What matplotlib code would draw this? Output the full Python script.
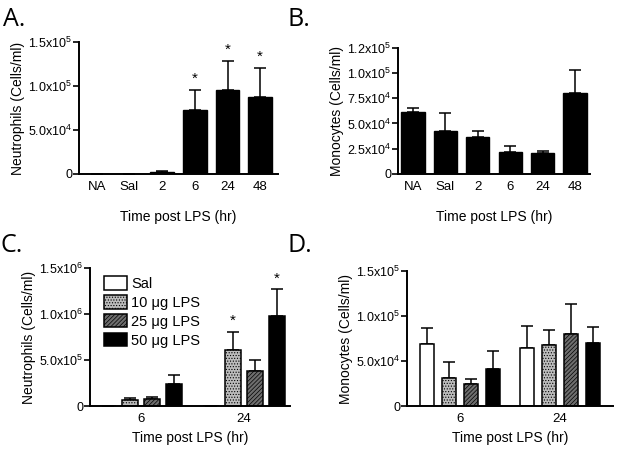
import matplotlib
matplotlib.use("Agg")
import matplotlib.pyplot as plt
import numpy as np

plt.rcParams['font.family'] = ['Liberation Sans', 'DejaVu Sans']
plt.rcParams['mathtext.default'] = 'regular'
plt.rcParams['hatch.linewidth'] = 0.5

# Panel A/B: time course
tiempos = ['NA', 'Sal', '2', '6', '24', '48']
neut_a = [0, 0, 2500, 72500, 95000, 88000]
neut_a_err = [0, 0, 500, 23500, 33000, 32000]
neut_a_sig = [False, False, False, True, True, True]
mono_b = [61000, 42800, 36800, 22000, 20500, 80000]
mono_b_err = [4000, 17700, 6000, 5600, 2000, 22500]

# Panel C/D: dosis
grupos = ['6', '24']
dosis = ['Sal', '10 \u03bcg LPS', '25 \u03bcg LPS', '50 \u03bcg LPS']
neut_c = [[0, 65000, 73000, 237000], [0, 612000, 379000, 983000]]
neut_c_err = [[0, 26000, 29000, 102000], [0, 190000, 120000, 284000]]
neut_c_sig = [[False, False, False, False], [False, True, False, True]]
mono_d = [[69300, 31500, 24400, 41500], [64400, 68100, 79600, 70400]]
mono_d_err = [[17400, 17400, 5600, 19200], [24500, 16300, 33400, 17000]]

# Ticks
ticks_a = [0, 5e4, 1e5, 1.5e5]
labels_a = ['0', '5.0x10$^4$', '1.0x10$^5$', '1.5x10$^5$']
ticks_b = [0, 2.5e4, 5e4, 7.5e4, 1e5, 1.25e5]
labels_b = ['0', '2.5x10$^4$', '5.0x10$^4$', '7.5x10$^4$', '1.0x10$^5$', '1.2x10$^5$']
ticks_c = [0, 5e5, 1e6, 1.5e6]
labels_c = ['0', '5.0x10$^5$', '1.0x10$^6$', '1.5x10$^6$']
ticks_d = [0, 5e4, 1e5, 1.5e5]
labels_d = ['0', '5.0x10$^4$', '1.0x10$^5$', '1.5x10$^5$']

estilos = [dict(facecolor='white', hatch=None),
           dict(facecolor='#bcbcbc', hatch='......'),
           dict(facecolor='#6e6e6e', hatch='////////'),
           dict(facecolor='black', hatch=None)]

fig = plt.figure(figsize=(6.19, 4.58), dpi=100)


def estilo_ejes(ax, ticks, labels, ylabel, xlabelpad):
    for s in ['top', 'right']:
        ax.spines[s].set_visible(False)
    ax.spines['left'].set_linewidth(1.4)
    ax.spines['bottom'].set_linewidth(1.4)
    ax.set_yticks(ticks)
    ax.set_yticklabels(labels)
    ax.set_ylim(0, ticks[-1])
    ax.tick_params(axis='y', length=4, width=1.2, labelsize=9, pad=1)
    ax.tick_params(axis='x', length=0, labelsize=9.5, pad=5)
    ax.set_ylabel(ylabel, fontsize=10, labelpad=2)
    ax.set_xlabel('Time post LPS (hr)', fontsize=10, labelpad=xlabelpad)


def barras_simples(ax, vals, errs):
    x = np.arange(len(vals))
    ax.bar(x, vals, width=0.72, color='black', edgecolor='black', zorder=2)
    ax.errorbar(x, vals, yerr=[np.zeros(len(vals)), errs], fmt='none',
                ecolor='black', elinewidth=1.1, capsize=4.5, capthick=1.1, zorder=1)
    ax.set_xticks(x)
    ax.set_xticklabels(tiempos)
    return x


def barras_grupo(ax, vals, errs, paso, ancho):
    offs = (np.arange(4) - 1.5) * paso
    handles = []
    for j in range(4):
        xs = np.arange(len(grupos)) + offs[j]
        v = [vals[g][j] for g in range(len(grupos))]
        e = [errs[g][j] for g in range(len(grupos))]
        b = ax.bar(xs, v, width=ancho, edgecolor='black', linewidth=1.1,
                   zorder=2, label=dosis[j], **estilos[j])
        ax.errorbar(xs, v, yerr=[np.zeros(len(v)), e], fmt='none',
                    ecolor='black', elinewidth=1.1, capsize=4, capthick=1.1, zorder=1)
        handles.append(b)
    ax.set_xticks(np.arange(len(grupos)))
    ax.set_xticklabels(grupos)
    return offs, handles


# A
ax_a = fig.add_axes([0.1276, 0.6201, 0.3215, 0.2882])
x = barras_simples(ax_a, neut_a, neut_a_err)
ax_a.set_xlim(-0.545, 5.545)
estilo_ejes(ax_a, ticks_a, labels_a, 'Neutrophils (Cells/ml)', 12)
for i in range(len(tiempos)):
    if neut_a_sig[i]:
        ax_a.annotate('*', (x[i], neut_a[i] + neut_a_err[i]), xytext=(0, 3),
                      textcoords='offset points', ha='center', va='bottom', fontsize=11)

# B
ax_b = fig.add_axes([0.643, 0.6201, 0.3102, 0.276])
barras_simples(ax_b, mono_b, mono_b_err)
ax_b.set_xlim(-0.46, 5.46)
estilo_ejes(ax_b, ticks_b, labels_b, 'Monocytes (Cells/ml)', 12)

# C
ax_c = fig.add_axes([0.1454, 0.1135, 0.3231, 0.3013])
offs_c, handles = barras_grupo(ax_c, neut_c, neut_c_err, 0.213, 0.155)
ax_c.set_xlim(-0.495, 1.447)
estilo_ejes(ax_c, ticks_c, labels_c, 'Neutrophils (Cells/ml)', 4)
for g in range(len(grupos)):
    for j in range(4):
        if neut_c_sig[g][j]:
            ax_c.annotate('*', (g + offs_c[j], neut_c[g][j] + neut_c_err[g][j]),
                          xytext=(0, 3), textcoords='offset points',
                          ha='center', va='bottom', fontsize=11)
ax_c.legend(handles=handles, loc='upper left', bbox_to_anchor=(0.07, 0.94),
            frameon=False, fontsize=10.5, handlelength=1.6, handleheight=1.05,
            labelspacing=0.28, handletextpad=0.25, borderpad=0, borderaxespad=0)

# D
ax_d = fig.add_axes([0.6575, 0.1135, 0.3328, 0.2948])
barras_grupo(ax_d, mono_d, mono_d_err, 0.22, 0.143)
ax_d.set_xlim(-0.53, 1.53)
estilo_ejes(ax_d, ticks_d, labels_d, 'Monocytes (Cells/ml)', 4)

# Letras de panel
for txt, px, py in [('A.', 3, 7), ('B.', 287, 7), ('C.', 1, 233), ('D.', 287, 233)]:
    fig.text(px / 619, 1 - py / 458, txt, fontsize=18, family=['Open Sans', 'DejaVu Sans'],
             ha='left', va='top')

fig.savefig('out.png', dpi=100)
